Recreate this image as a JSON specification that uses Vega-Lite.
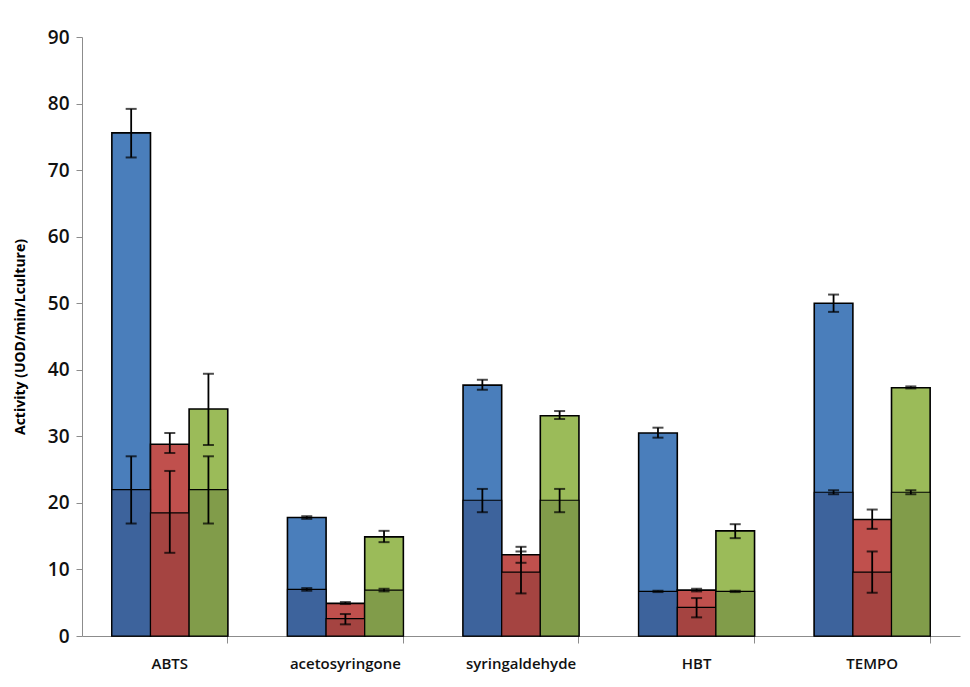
{
  "$schema": "https://vega.github.io/schema/vega-lite/v6.json",
  "width": 878,
  "height": 599,
  "autosize": "none",
  "padding": {"left": 82, "top": 37, "right": 10, "bottom": 51},
  "background": "white",
  "config": {
    "view": {"stroke": null},
    "font": "Open Sans",
    "axis": {"domainColor": "#8c8c8c", "tickColor": "#8c8c8c", "labelColor": "#111111", "grid": false}
  },
  "data": {
    "values": [
      {"substrate": "ABTS", "series": "a", "total": 75.6, "totalLo": 71.9, "totalHi": 79.2, "base": 22.0, "baseLo": 16.9, "baseHi": 27.0},
      {"substrate": "ABTS", "series": "b", "total": 28.8, "totalLo": 27.5, "totalHi": 30.5, "base": 18.5, "baseLo": 12.5, "baseHi": 24.8},
      {"substrate": "ABTS", "series": "c", "total": 34.1, "totalLo": 28.7, "totalHi": 39.4, "base": 22.0, "baseLo": 16.9, "baseHi": 27.0},
      {"substrate": "acetosyringone", "series": "a", "total": 17.8, "totalLo": 17.6, "totalHi": 18.0, "base": 7.0, "baseLo": 6.8, "baseHi": 7.2},
      {"substrate": "acetosyringone", "series": "b", "total": 4.9, "totalLo": 4.8, "totalHi": 5.1, "base": 2.6, "baseLo": 1.75, "baseHi": 3.3},
      {"substrate": "acetosyringone", "series": "c", "total": 14.9, "totalLo": 14.1, "totalHi": 15.8, "base": 6.9, "baseLo": 6.7, "baseHi": 7.1},
      {"substrate": "syringaldehyde", "series": "a", "total": 37.7, "totalLo": 37.0, "totalHi": 38.5, "base": 20.4, "baseLo": 18.6, "baseHi": 22.1},
      {"substrate": "syringaldehyde", "series": "b", "total": 12.2, "totalLo": 11.0, "totalHi": 13.4, "base": 9.6, "baseLo": 6.4, "baseHi": 12.7},
      {"substrate": "syringaldehyde", "series": "c", "total": 33.1, "totalLo": 32.6, "totalHi": 33.8, "base": 20.4, "baseLo": 18.6, "baseHi": 22.1},
      {"substrate": "HBT", "series": "a", "total": 30.5, "totalLo": 29.8, "totalHi": 31.3, "base": 6.7, "baseLo": 6.6, "baseHi": 6.8},
      {"substrate": "HBT", "series": "b", "total": 6.9, "totalLo": 6.7, "totalHi": 7.1, "base": 4.3, "baseLo": 2.8, "baseHi": 5.7},
      {"substrate": "HBT", "series": "c", "total": 15.8, "totalLo": 14.7, "totalHi": 16.8, "base": 6.7, "baseLo": 6.6, "baseHi": 6.8},
      {"substrate": "TEMPO", "series": "a", "total": 50.0, "totalLo": 48.7, "totalHi": 51.3, "base": 21.6, "baseLo": 21.3, "baseHi": 21.9},
      {"substrate": "TEMPO", "series": "b", "total": 17.5, "totalLo": 16.1, "totalHi": 19.0, "base": 9.6, "baseLo": 6.5, "baseHi": 12.7},
      {"substrate": "TEMPO", "series": "c", "total": 37.3, "totalLo": 37.2, "totalHi": 37.5, "base": 21.6, "baseLo": 21.3, "baseHi": 21.9}
    ]
  },
  "encoding": {
    "x": {
      "field": "substrate",
      "type": "nominal",
      "sort": null,
      "scale": {"paddingInner": 0.34, "paddingOuter": 0.17},
      "axis": {
        "title": null,
        "labelAngle": 0,
        "labelFontSize": 15,
        "labelFontWeight": 600,
        "labelPadding": 13,
        "tickSize": 7,
        "bandPosition": 1
      }
    },
    "xOffset": {"field": "series", "type": "nominal", "scale": {"paddingInner": 0}}
  },
  "layer": [
    {
      "mark": {"type": "bar", "stroke": "black", "strokeWidth": 1.6},
      "encoding": {
        "y": {
          "field": "total",
          "type": "quantitative",
          "scale": {"domain": [0, 90]},
          "axis": {
            "title": "Activity (UOD/min/Lculture)",
            "titleFontSize": 14,
            "titleFontWeight": "bold",
            "titlePadding": 20,
            "values": [0, 10, 20, 30, 40, 50, 60, 70, 80, 90],
            "labelFontSize": 19,
            "labelFontWeight": 600,
            "labelPadding": 7,
            "tickSize": 6
          }
        },
        "color": {
          "field": "series",
          "type": "nominal",
          "scale": {"domain": ["a", "b", "c"], "range": ["#4a7ebb", "#c0504d", "#9bbb59"]},
          "legend": null
        }
      }
    },
    {
      "mark": {"type": "bar", "stroke": "black", "strokeWidth": 1.2},
      "encoding": {
        "y": {"field": "base", "type": "quantitative"},
        "color": {
          "field": "series",
          "type": "nominal",
          "scale": {"domain": ["a", "b", "c"], "range": ["#3d639c", "#a54441", "#819c4a"]},
          "legend": null
        }
      }
    },
    {
      "mark": {"type": "rule", "color": "black", "strokeWidth": 1.8},
      "encoding": {
        "y": {"field": "totalLo", "type": "quantitative"},
        "y2": {"field": "totalHi"}
      }
    },
    {
      "mark": {"type": "tick", "color": "black", "thickness": 2, "size": 11},
      "encoding": {"y": {"field": "totalLo", "type": "quantitative"}}
    },
    {
      "mark": {"type": "tick", "color": "black", "thickness": 2, "size": 11},
      "encoding": {"y": {"field": "totalHi", "type": "quantitative"}}
    },
    {
      "mark": {"type": "rule", "color": "black", "strokeWidth": 1.8},
      "encoding": {
        "y": {"field": "baseLo", "type": "quantitative"},
        "y2": {"field": "baseHi"}
      }
    },
    {
      "mark": {"type": "tick", "color": "black", "thickness": 2, "size": 11},
      "encoding": {"y": {"field": "baseLo", "type": "quantitative"}}
    },
    {
      "mark": {"type": "tick", "color": "black", "thickness": 2, "size": 11},
      "encoding": {"y": {"field": "baseHi", "type": "quantitative"}}
    }
  ],
  "resolve": {"scale": {"color": "independent"}}
}
